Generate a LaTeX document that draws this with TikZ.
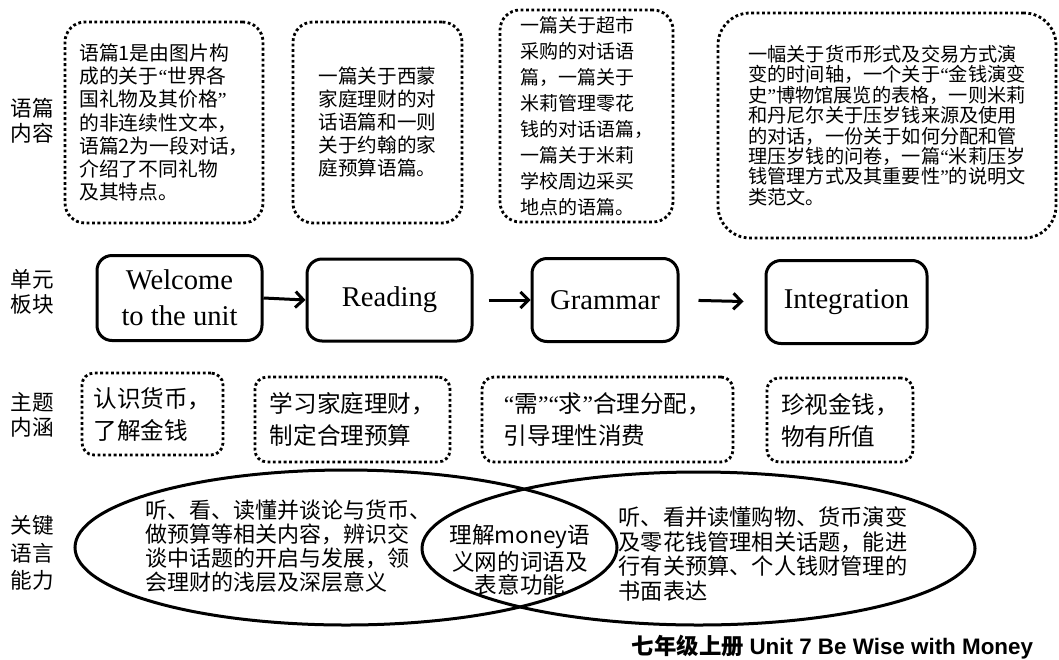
\documentclass[tikz,border=0pt]{standalone}
\usepackage{fontspec}
\setmainfont{Liberation Serif}
\newfontfamily\cjk{Noto Sans CJK SC}
\newfontfamily\capfont{Liberation Sans}
\usetikzlibrary{shapes.geometric,arrows.meta}

% narrow quote marks, as printed
\newcommand{\lqm}{{\rmfamily “}}
\newcommand{\rqm}{{\rmfamily ”}}

\tikzset{
  dotbox/.style={draw, line width=1.4pt, dash pattern=on 1.4pt off 1.3pt,
    rounded corners=#1, inner sep=0pt, align=left},
  dotbox/.default=10pt,
  partbox/.style={draw, line width=1.5pt, rounded corners=7.5pt, inner sep=0pt,
    align=center, font=\fontsize{14.3}{18}\selectfont},
  rowlab/.style={align=center, font=\cjk\fontsize{10.8}{12.5}\selectfont},
  aim/.style={align=left, font=\cjk\fontsize{11.8}{16}\selectfont},
  ring/.style={ellipse, draw, line width=1.5pt, inner sep=0pt},
  ringtext/.style={font=\cjk\fontsize{11}{12}\selectfont},
  flow/.style={-{Straight Barb[length=4pt,width=8pt]}, line width=1.5pt}
}

\begin{document}
\begin{tikzpicture}[x=0.5pt,y=-0.5pt]
  \useasboundingbox (0,0) rectangle (1059,659);

  % row labels
  \node[rowlab] (lab1) at (32,121) {语篇\\内容};
  \node[rowlab] (lab2) at (32,292) {单元\\板块};
  \node[rowlab] (lab3) at (32,415) {主题\\内涵};
  \node[rowlab, font=\cjk\fontsize{10.8}{13.7}\selectfont] (lab4) at (32,553) {关键\\语言\\能力};

  % texts of the unit
  \node[dotbox, minimum width=99pt, minimum height=100.5pt,
        font=\cjk\fontsize{9.9}{11.6}\selectfont] (txt1) at (164,122.5)
    {语篇1是由图片构\\成的关于\lqm 世界各\\国礼物及其价格\rqm\\的非连续性文本，\\语篇2为一段对话，\\介绍了不同礼物\\及其特点。};
  \node[dotbox, minimum width=84.5pt, minimum height=100.5pt,
        font=\cjk\fontsize{9.8}{11.5}\selectfont] (txt2) at (377.5,122.5)
    {一篇关于西蒙\\家庭理财的对\\话语篇和一则\\关于约翰的家\\庭预算语篇。};
  \node[dotbox, minimum width=86.5pt, minimum height=106pt,
        font=\cjk\fontsize{9.5}{13}\selectfont] (txt3) at (586.5,116)
    {一篇关于超市\\采购的对话语\\篇，一篇关于\\米莉管理零花\\钱的对话语篇，\\一篇关于米莉\\学校周边采买\\地点的语篇。};
  \node[dotbox=16pt, minimum width=169pt, minimum height=112.5pt,
        font=\cjk\fontsize{9.6}{10.2}\selectfont] (txt4) at (887,125.5)
    {一幅关于货币形式及交易方式演\\变的时间轴，一个关于\lqm 金钱演变\\史\rqm 博物馆展览的表格，一则米莉\\和丹尼尔关于压岁钱来源及使用\\的对话，一份关于如何分配和管\\理压岁钱的问卷，一篇\lqm 米莉压岁\\钱管理方式及其重要性\rqm 的说明文\\类范文。};

  % parts of the unit
  \node[partbox, minimum width=82.5pt, minimum height=42.5pt] (welcome) at (179.5,298)
    {Welcome\\to the unit};
  \node[partbox, minimum width=82.5pt, minimum height=41pt] (reading) at (389.5,300)
    {Reading};
  \node[partbox, minimum width=73pt, minimum height=41.5pt] (grammar) at (605,300)
    {Grammar};
  \node[partbox, minimum width=80.5pt, minimum height=41.5pt] (integration) at (846.5,302)
    {Integration};

  \draw[flow] (welcome.east) -- (reading.west);
  \draw[flow, shorten <=7.5pt] (reading.east) -- (grammar.west);
  \draw[flow, shorten <=9.5pt, shorten >=10.5pt] (grammar.east) -- (integration.west);

  % theme of each part
  \node[dotbox=6pt, aim, minimum width=70.5pt, minimum height=41pt] (aim1) at (152.5,414)
    {认识货币，\\了解金钱};
  \node[dotbox=6pt, aim, minimum width=97.5pt, minimum height=42.5pt] (aim2) at (352.5,419.5)
    {学习家庭理财，\\制定合理预算};
  \node[dotbox=6pt, aim, minimum width=125.5pt, minimum height=42.5pt] (aim3) at (607.5,419.5)
    {\lqm 需\rqm\lqm 求\rqm 合理分配，\\引导理性消费};
  \node[dotbox=6pt, aim, minimum width=73pt, minimum height=42pt] (aim4) at (840,420)
    {珍视金钱，\\物有所值};

  % key language ability
  \node[ring, minimum width=271pt, minimum height=77.5pt] (lring) at (346,547.5) {};
  \node[ring, minimum width=276.5pt, minimum height=76.5pt] (rring) at (698.5,548.5) {};
  \node[ringtext, align=left] (ltext) at (288,546)
    {听、看、读懂并谈论与货币、\\做预算等相关内容，辨识交\\谈中话题的开启与发展，领\\会理财的浅层及深层意义};
  \node[ringtext, align=center, font=\cjk\fontsize{11.3}{11.6}\selectfont] (mtext) at (520,560)
    {理解money语\\义网的词语及\\表意功能};
  \node[ringtext, align=left, font=\cjk\fontsize{11.1}{12.4}\selectfont] (rtext) at (763,554)
    {听、看并读懂购物、货币演变\\及零花钱管理相关话题，能进\\行有关预算、个人钱财管理的\\书面表达};

  \node[font=\bfseries\fontsize{11.2}{13}\selectfont] (unit) at (832.5,647)
    {{\cjk 七年级上册} {\capfont Unit 7 Be Wise with Money}};
\end{tikzpicture}
\end{document}
